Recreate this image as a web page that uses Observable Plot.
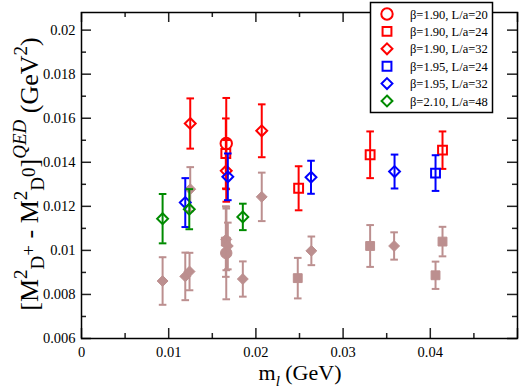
<!DOCTYPE html>
<html><head><meta charset="utf-8">
<script src="https://cdn.jsdelivr.net/npm/d3@7"></script>
<script src="https://cdn.jsdelivr.net/npm/@observablehq/plot@0.6"></script>
<style>body{margin:0;background:#fff} #chart{width:519px;height:392px}</style>
</head><body><div id="chart"></div>
<script>
// ---- series definitions ----
const seriesNames   = ["β=1.90, L/a=20","β=1.90, L/a=24","β=1.90, L/a=32","β=1.95, L/a=24","β=1.95, L/a=32","β=2.10, L/a=48"];
const seriesColors  = ["#ff0000","#ff0000","#ff0000","#0000ff","#0000ff","#008b00"];
const seriesSymbols = ["circle","square","diamond2","square","diamond2","diamond2"];
const grayColor = "#bc8f8f";

// ---- open (coloured) points: m_l, value, error ----
const x0 = [0.0166],                        y0 = [0.01485],                         e0 = [0.00207];
const x1 = [0.01655, 0.0249, 0.0331, 0.0414], y1 = [0.0144, 0.01282, 0.01434, 0.01455], e1 = [0.00159, 0.0010, 0.00106, 0.00085];
const x2 = [0.01247, 0.0166, 0.02067],       y2 = [0.01576, 0.01361, 0.01543],         e2 = [0.00114, 0.0014, 0.0012];
const x3 = [0.0406],                        y3 = [0.01351],                         e3 = [0.00081];
const x4 = [0.0119, 0.01678, 0.02632, 0.0359], y4 = [0.01217, 0.01334, 0.01332, 0.01358], e4 = [0.00111, 0.00106, 0.00075, 0.00077];
const x5 = [0.0093, 0.01236, 0.0185],        y5 = [0.01144, 0.01187, 0.01152],         e5 = [0.00112, 0.00091, 0.0006];

// ---- filled (grey) points: m_l, value, error ----
const gx0 = [0.0166],                        gy0 = [0.00988],                        ge0 = [0.0021];
const gx1 = [0.01655, 0.0248, 0.0331, 0.0414], gy1 = [0.0104, 0.00874, 0.0102, 0.0104],  ge1 = [0.0016, 0.00092, 0.00095, 0.00067];
const gx2 = [0.01247, 0.0166, 0.02067],       gy2 = [0.01278, 0.0105, 0.01243],         ge2 = [0.001, 0.0014, 0.0011];
const gx3 = [0.0406],                        gy3 = [0.00887],                        ge3 = [0.00062];
const gx4 = [0.0119, 0.01678, 0.02636, 0.03585], gy4 = [0.00882, 0.0102, 0.00998, 0.0102], ge4 = [0.00108, 0.00106, 0.00065, 0.00062];
const gx5 = [0.0093, 0.01239, 0.0185],        gy5 = [0.00861, 0.00904, 0.0087],         ge5 = [0.00108, 0.00085, 0.0008];

// ---- axes ----
const xTickLabels = [0, 0.01, 0.02, 0.03, 0.04];
const xMajor = [0, 0.01, 0.02, 0.03, 0.04, 0.05];
const xMinor = [0.005, 0.015, 0.025, 0.035, 0.045];
const yMajor = [0.006, 0.008, 0.01, 0.012, 0.014, 0.016, 0.018, 0.02];
const yMinor = [0.007, 0.009, 0.011, 0.013, 0.015, 0.017, 0.019];
const xDomain = [0, 0.05];
const yDomain = [0.006, 0.0208];

const open = [[x0,y0,e0],[x1,y1,e1],[x2,y2,e2],[x3,y3,e3],[x4,y4,e4],[x5,y5,e5]];
const filled = [[gx0,gy0,ge0],[gx1,gy1,ge1],[gx2,gy2,ge2],[gx3,gy3,ge3],[gx4,gy4,ge4],[gx5,gy5,ge5]];
const rows = (xs, ys, es) => xs.map((x, i) => ({x, y: ys[i], e: es[i]}));

const W = 519, H = 392, mL = 81, mR = 2, mT = 12, mB = 54;
const innerW = W - mL - mR, innerH = H - mT - mB;
const serif = "'Liberation Serif','Times New Roman',Times,serif";
const cap = {draw(ctx) { ctx.moveTo(-3.8, 0); ctx.lineTo(3.8, 0); }};
const rOf = s => s === "circle" ? 5.7 : s === "square" ? 5 : 4.9;

const marks = [];
function addSeries(data, color, symbol, fillIt) {
  marks.push(Plot.ruleX(data, {x: "x", y1: d => d.y - d.e, y2: d => d.y + d.e, stroke: color, strokeWidth: 2}));
  marks.push(Plot.dot(data, {x: "x", y: d => d.y + d.e, symbol: cap, stroke: color, strokeWidth: 2, r: 4}));
  marks.push(Plot.dot(data, {x: "x", y: d => d.y - d.e, symbol: cap, stroke: color, strokeWidth: 2, r: 4}));
  marks.push(Plot.dot(data, {x: "x", y: "y", symbol, r: rOf(symbol),
    stroke: color, strokeWidth: fillIt ? 1 : 2, fill: fillIt ? color : "none"}));
}
filled.forEach(([xs, ys, es], i) => addSeries(rows(xs, ys, es), grayColor, seriesSymbols[i], true));
open.forEach(([xs, ys, es], i) => addSeries(rows(xs, ys, es), seriesColors[i], seriesSymbols[i], false));

const fmt = d => String(+d.toFixed(3));
const svg = Plot.plot({
  width: W, height: H, marginLeft: mL, marginRight: mR, marginTop: mT, marginBottom: mB,
  x: {domain: xDomain}, y: {domain: yDomain},
  style: {fontFamily: serif, background: "#fff", color: "#000"},
  marks: [
    Plot.tickX(xMajor, {x: d => d, insetTop: innerH - 10, stroke: "#222", strokeWidth: 1.5}),
    Plot.tickX(xMajor, {x: d => d, insetBottom: innerH - 10, stroke: "#222", strokeWidth: 1.5}),
    Plot.tickX(xMinor, {x: d => d, insetTop: innerH - 5, stroke: "#222", strokeWidth: 1.5}),
    Plot.tickX(xMinor, {x: d => d, insetBottom: innerH - 5, stroke: "#222", strokeWidth: 1.5}),
    Plot.tickY(yMajor, {y: d => d, insetRight: innerW - 10, stroke: "#222", strokeWidth: 1.5}),
    Plot.tickY(yMajor, {y: d => d, insetLeft: innerW - 10, stroke: "#222", strokeWidth: 1.5}),
    Plot.tickY(yMinor, {y: d => d, insetRight: innerW - 5, stroke: "#222", strokeWidth: 1.5}),
    Plot.tickY(yMinor, {y: d => d, insetLeft: innerW - 5, stroke: "#222", strokeWidth: 1.5}),
    ...marks,
    Plot.frame({stroke: "#000", strokeWidth: 1.5}),
    Plot.axisX(xTickLabels, {tickSize: 0, tickPadding: 8, fontSize: 14.5, fontFamily: serif, tickFormat: fmt, label: null}),
    Plot.axisY(yMajor, {tickSize: 0, tickPadding: 6, fontSize: 14.5, fontFamily: serif, tickFormat: fmt, label: null})
  ]
});
document.getElementById("chart").appendChild(svg);

// ---- axis titles ----
const S = d3.select(svg);
function rich(parent, parts, base) {
  let cur = 0;
  parts.forEach(([t, off, size, italic]) => {
    const ts = parent.append("tspan").text(t).attr("dy", off - cur).attr("font-size", size || base);
    if (italic) ts.attr("font-style", "italic");
    cur = off;
  });
}
const yl = S.append("text").attr("transform", "translate(38,174) rotate(-90)")
  .attr("text-anchor", "middle").attr("font-family", serif).attr("font-size", 26).attr("fill", "#000");
rich(yl, [["[M",0],["2",-11,19],["D",6,19],["+",-3,19],[" - M",0],["2",-11,19],["D",6,19],["0",-3,19],["]",0],
  ["QED",-12,19,true],[" (GeV",0],["2",-11,19],[")",0]], 26);
const xl = S.append("text").attr("x", 300).attr("y", 380)
  .attr("text-anchor", "middle").attr("font-family", serif).attr("font-size", 22).attr("fill", "#000");
rich(xl, [["m",0],["l",6,15,true],[" (GeV)",0]], 22);

// ---- legend ----
const lg = S.append("g");
lg.append("rect").attr("x", 370.5).attr("y", 2.5).attr("width", 122).attr("height", 110)
  .attr("fill", "#fff").attr("stroke", "#000").attr("stroke-width", 1.5);
const symMap = {circle: d3.symbolCircle, square: d3.symbolSquare, diamond2: d3.symbolDiamond2};
seriesNames.forEach((name, i) => {
  const cy = 14 + i * 17.4;
  const r = rOf(seriesSymbols[i]);
  lg.append("path").attr("d", d3.symbol(symMap[seriesSymbols[i]], Math.PI * r * r)())
    .attr("transform", `translate(387,${cy})`).attr("fill", "none")
    .attr("stroke", seriesColors[i]).attr("stroke-width", 2);
  lg.append("text").attr("x", 410).attr("y", cy + 4.5).attr("text-anchor", "start").attr("font-family", serif)
    .attr("font-size", 12.5).attr("fill", "#000").text(name);
});
</script>
</body></html>
